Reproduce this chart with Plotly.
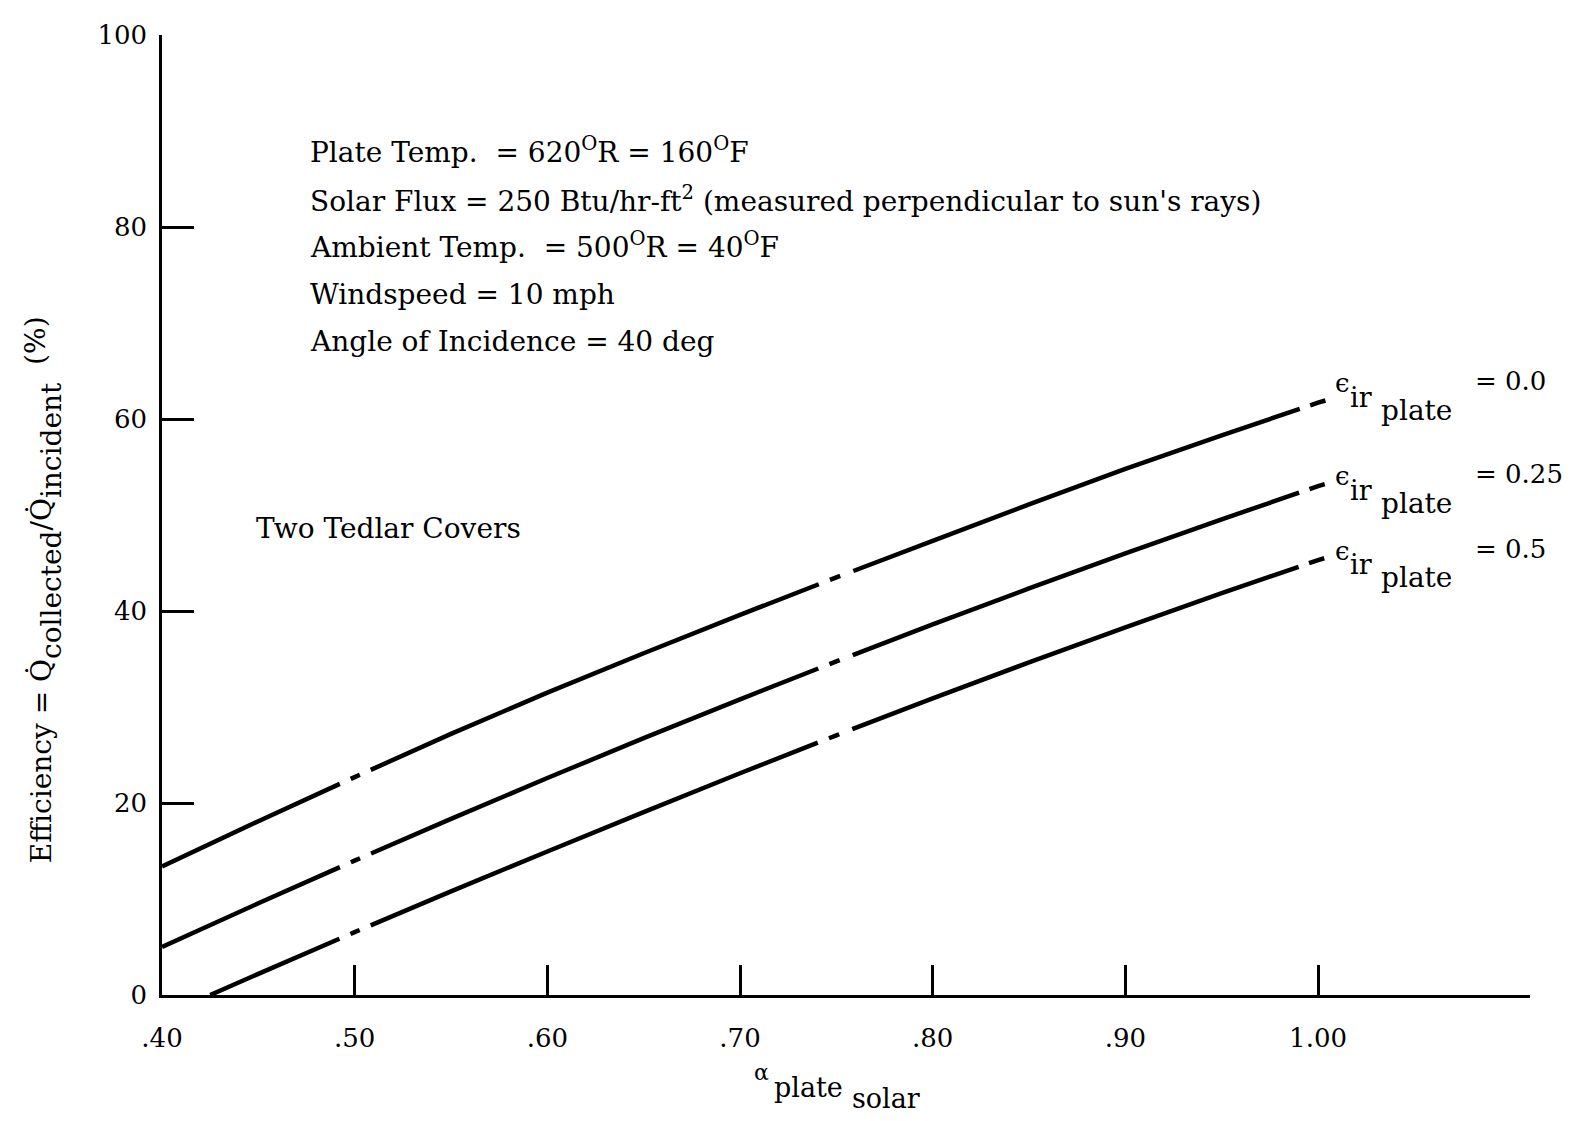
import plotly.graph_objects as go

# ---------------- data ----------------
x_alpha = [0.40, 0.45, 0.50, 0.55, 0.60, 0.65, 0.70, 0.75, 0.80, 0.85, 0.90, 0.95, 1.00, 1.005]
eff_eps_0 = [13.4, 18.1, 22.7, 27.2, 31.5, 35.6, 39.6, 43.5, 47.3, 51.1, 54.8, 58.3, 61.7, 62.0]
eff_eps_025 = [5.0, 9.55, 14.0, 18.35, 22.6, 26.75, 30.8, 34.75, 38.6, 42.35, 46.0, 49.55, 53.0, 53.3]
x_alpha_05 = [0.425, 0.45, 0.50, 0.55, 0.60, 0.65, 0.70, 0.75, 0.80, 0.85, 0.90, 0.95, 1.00, 1.005]
eff_eps_05 = [0.0, 2.2, 6.55, 10.8, 14.95, 19.05, 23.1, 27.05, 30.9, 34.65, 38.3, 41.85, 45.3, 45.6]

eps_labels = ["= 0.0", "= 0.25", "= 0.5"]

x_tickvals = [0.40, 0.50, 0.60, 0.70, 0.80, 0.90, 1.00]
x_ticktext = [".40", ".50", ".60", ".70", ".80", ".90", "1.00"]
y_tickvals = [0, 20, 40, 60, 80, 100]
y_ticktext = ["0", "20", "40", "60", "80", "100"]

conditions = [
    "Plate Temp.  = 620<sup>O</sup>R = 160<sup>O</sup>F",
    "Solar Flux = 250 Btu/hr-ft<sup>2</sup> (measured perpendicular to sun's rays)",
    "Ambient Temp.  = 500<sup>O</sup>R = 40<sup>O</sup>F",
    "Windspeed = 10 mph",
    "Angle of Incidence = 40 deg",
]

# ---------------- geometry / style ----------------
OFF = 8                      # default body margin of the html page
W, H = 1577 - 2 * OFF, 1121 - 2 * OFF
ML, MT = 154, 17
PW, PH = 1368, 970
MR = W - ML - PW
MB = H - MT - PH
XR = [0.40, 1.11]
YR = [0, 100]
PXX = PW / (XR[1] - XR[0])
PXY = PH / (YR[1] - YR[0])
FONT = "DejaVu Serif"


def to_px(x, y):
    return (x - XR[0]) * PXX, (y - YR[0]) * PXY


def length_at(xs, ys, xq):
    """path length (px) of the polyline from its start to abscissa xq"""
    total = 0.0
    for i in range(len(xs) - 1):
        x0, y0 = to_px(xs[i], ys[i])
        x1, y1 = to_px(xs[i + 1], ys[i + 1])
        seg = ((x1 - x0) ** 2 + (y1 - y0) ** 2) ** 0.5
        if xq >= xs[i + 1]:
            total += seg
        else:
            frac = max(0.0, (xq - xs[i]) / (xs[i + 1] - xs[i]))
            total += seg * frac
            break
    return total


# break pattern: (x where the break starts, horizontal px offsets of boundaries)
BREAKS = [(0.492, [0, 11, 20, 31]), (0.740, [0, 11, 21, 34]), (0.989, [0, 10, 25])]


def dash_for(xs, ys):
    bounds = []
    for xb, offs in BREAKS:
        for o in offs:
            bounds.append(length_at(xs, ys, xb + o / PXX))
    segs = []
    prev = 0.0
    for b in bounds:
        segs.append(max(1, round(b - prev)))
        prev = b
    segs.append(3000)
    return ",".join(f"{s}px" for s in segs)


fig = go.Figure()
for xs, ys in [(x_alpha, eff_eps_0), (x_alpha, eff_eps_025), (x_alpha_05, eff_eps_05)]:
    fig.add_trace(go.Scatter(
        x=xs, y=ys, mode="lines",
        line=dict(color="black", width=4.5, dash=dash_for(xs, ys), simplify=False),
        showlegend=False, hoverinfo="skip",
    ))


def ann(text, px, py, size=26, xanchor="left", yanchor="middle", angle=0):
    """px, py are page pixel positions"""
    fig.add_annotation(
        text=text, x=(px - OFF - ML) / PW, y=(MT + PH - (py - OFF)) / PH,
        xref="paper", yref="paper", xanchor=xanchor, yanchor=yanchor,
        showarrow=False, textangle=angle, borderpad=0,
        font=dict(family=FONT, size=size, color="black"),
    )


for i, t in enumerate(conditions):
    ann(t, 309, [142, 191, 238, 287, 335][i], size=28)

ann("Two Tedlar Covers", 255, 524, size=28)

# epsilon labels at right end of the curves
for lab, yb in zip(eps_labels, [377, 471, 546]):
    ann("ϵ", 1342, yb, size=26, xanchor="center")
    ann("ir", 1349, yb + 14, size=27)
    ann("plate", 1380, yb + 27, size=28)
    ann(lab, 1474, yb - 2, size=26)

# x-axis title: alpha_plate_solar
ann("α", 770, 1073, size=22, xanchor="right")
ann("plate", 773, 1088, size=27)
ann("solar", 851, 1100, size=27)

# y-axis title (subscripts kept full size, only lowered)
SUB = "<span style='baseline-shift:-10px'>{}</span>"
ann("Efficiency = Q̇" + SUB.format("collected") + "/Q̇" + SUB.format("incident")
    + "  <span style='baseline-shift:6px'>(%)</span>",
    43, 586, size=28, xanchor="center", yanchor="middle", angle=-90)

fig.update_layout(
    width=W, height=H,
    margin=dict(l=ML, r=MR, t=MT, b=MB, pad=0),
    paper_bgcolor="white", plot_bgcolor="white",
    font=dict(family=FONT, color="black", size=26),
    xaxis=dict(
        range=XR, showgrid=False, zeroline=False,
        showline=True, linecolor="black", linewidth=2.5,
        ticks="inside", ticklen=30, tickwidth=2.5, tickcolor="black",
        tickvals=x_tickvals, ticktext=x_ticktext,
        ticklabelstandoff=18, tickfont=dict(family=FONT, size=26),
    ),
    yaxis=dict(
        range=YR, showgrid=False, zeroline=False,
        showline=True, linecolor="black", linewidth=2.5,
        ticks="inside", ticklen=32, tickwidth=2.5, tickcolor="black",
        tickvals=y_tickvals, ticktext=y_ticktext,
        ticklabelstandoff=7, tickfont=dict(family=FONT, size=26),
    ),
)

fig.write_html("out.html")
